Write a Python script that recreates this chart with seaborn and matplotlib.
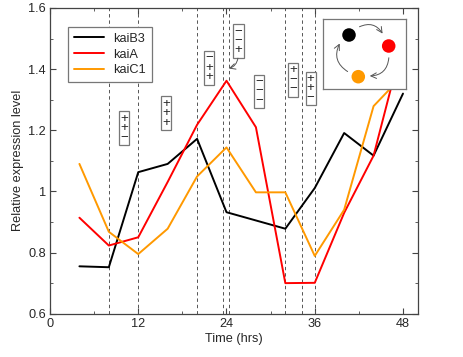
import pandas as pd
import seaborn as sns
import matplotlib.pyplot as plt

# expression data (time in hrs)
times = [4, 8, 12, 16, 20, 24, 28, 32, 36, 40, 44, 48]
kaiB3 = [0.755, 0.752, 1.063, 1.090, 1.172, 0.932, 0.905, 0.878, 1.011, 1.191, 1.117, 1.320]
kaiA = [0.914, 0.823, 0.850, 1.031, 1.218, 1.362, 1.210, 0.700, 0.701, 0.930, 1.117, 1.490]
kaiC1 = [1.090, 0.868, 0.795, 0.878, 1.049, 1.144, 0.997, 0.997, 0.789, 0.940, 1.279, 1.380]
genes = ['kaiB3', 'kaiA', 'kaiC1']
colors = ['black', 'red', '#ff9900']

xticks = [0, 12, 24, 36, 48]
yticks = [0.6, 0.8, 1.0, 1.2, 1.4, 1.6]
ytick_labels = ['0.6', '0.8', '1', '1.2', '1.4', '1.6']

# dashed sampling marks
vlines = [8, 12, 20, 23.5, 24.3, 32, 34.2, 36]

# +/- annotation boxes: (time, level, signs top to bottom)
box_t = [10.1, 15.8, 21.6, 25.65, 28.45, 33.05, 35.45]
box_y = [1.207, 1.256, 1.404, 1.492, 1.327, 1.365, 1.337]
box_signs = ['++−', '+++', '−++', '−−+', '−−−', '+−−', '++−']

df = pd.DataFrame({'Time': times * 3,
                   'Level': kaiB3 + kaiA + kaiC1,
                   'Gene': [g for g in genes for _ in times]})

sns.set_style('ticks')
plt.rcParams['font.family'] = ['Liberation Sans', 'DejaVu Sans']
fs = 9.2

fig = plt.figure(figsize=(4.63, 3.57), dpi=100)
ax = fig.add_axes([50/463, 43.3/357, 367.7/463, 305.7/357])

for t in vlines:
    ax.axvline(t, color='#555555', lw=0.7, ls=(0, (3.5, 3)), zorder=1)

sns.lineplot(data=df, x='Time', y='Level', hue='Gene', hue_order=genes,
             palette=dict(zip(genes, colors)), estimator=None, sort=False,
             lw=1.4, ax=ax, zorder=3)

for t, y, s in zip(box_t, box_y, box_signs):
    ax.text(t, y, '\n'.join(s), ha='center', va='center', fontsize=9.5,
            linespacing=0.72, zorder=4,
            bbox=dict(boxstyle='square,pad=0.1', fc='white', ec='#777777', lw=0.9))

# curved arrow from the "--+" box down to the kaiA peak
ax.annotate('', xy=(23.95, 1.40), xytext=(25.6, 1.445),
            arrowprops=dict(arrowstyle='->', color='#555555', lw=0.7,
                            connectionstyle='arc3,rad=-0.4'), zorder=4)

ax.set_xlim(0, 50)
ax.set_ylim(0.6, 1.6)
ax.set_xticks(xticks)
ax.set_xticks([6, 18, 30, 42], minor=True)
ax.set_yticks(yticks)
ax.set_yticklabels(ytick_labels)
ax.set_yticks([0.7, 0.9, 1.1, 1.3, 1.5], minor=True)
ax.tick_params(which='both', direction='in', top=True, right=True,
               color='#444444', labelsize=fs, pad=3)
ax.tick_params(which='major', length=4)
ax.tick_params(which='minor', length=2.5)
for sp in ax.spines.values():
    sp.set_color('#444444')
    sp.set_linewidth(0.9)
ax.set_xlabel('Time (hrs)', fontsize=fs, labelpad=2)
ax.set_ylabel('Relative expression level', fontsize=fs, labelpad=3)

leg = ax.legend(loc='upper left', bbox_to_anchor=(0.049, 0.938), borderaxespad=0,
                fontsize=fs, handlelength=2.4, labelspacing=0.3, fancybox=False,
                framealpha=1, edgecolor='#777777', borderpad=0.45, handletextpad=0.7)
leg.get_frame().set_linewidth(0.9)
leg.set_zorder(6)

# inset cycle diagram (pixel-like coordinates)
ins = fig.add_axes([323/463, (357-89)/357, 83/463, 70/357], zorder=7)
ins.set_xlim(323, 406)
ins.set_ylim(89, 19)
ins.set_xticks([])
ins.set_yticks([])
for sp in ins.spines.values():
    sp.set_color('#777777')
    sp.set_linewidth(0.9)
node_x = [349, 388.7, 358.3]
node_y = [35, 46, 76.7]
ins.scatter(node_x, node_y, s=95, c=colors, zorder=3, linewidths=0)
arrows = [((357, 28), (384, 36)), ((389, 55), (367, 76)), ((350, 73), (341, 41))]
for start, end in arrows:
    ins.annotate('', xy=end, xytext=start,
                 arrowprops=dict(arrowstyle='->', color='#555555', lw=0.7,
                                 connectionstyle='arc3,rad=-0.5'))

fig.savefig('out.png', dpi=100)
